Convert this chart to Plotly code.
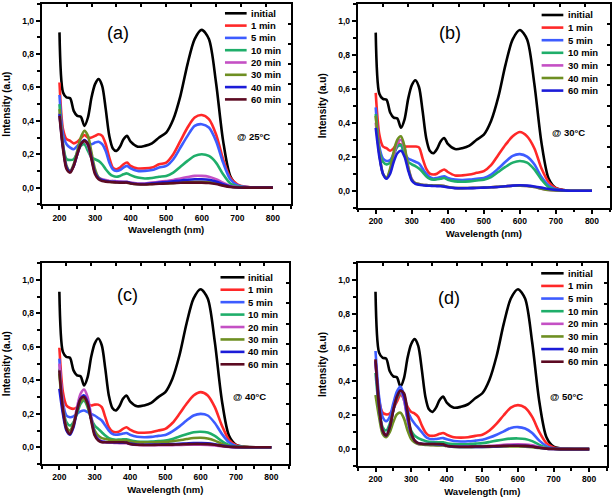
import plotly.graph_objects as go

# ---------------- data ----------------
wavelength = [200, 210, 220, 230, 240, 250, 260, 270, 280, 290, 300, 310, 320, 330, 340,
              350, 360, 370, 380, 390, 400, 420, 440, 460, 480, 500, 520, 540, 560, 580,
              600, 620, 640, 660, 680, 700, 720, 740, 760, 780, 800]

initial = [0.93, 0.57, 0.54, 0.535, 0.46, 0.43, 0.425, 0.37, 0.42, 0.54, 0.62, 0.65, 0.61, 0.47, 0.31,
           0.235, 0.22, 0.245, 0.29, 0.31, 0.275, 0.245, 0.25, 0.265, 0.30, 0.33, 0.41, 0.55, 0.74, 0.89,
           0.945, 0.89, 0.63, 0.28, 0.07, 0.015, 0.004, 0.001, 0.0, 0.0, 0.0]

panel_a = {
    "1 min":  [0.63, 0.35, 0.29, 0.28, 0.265, 0.275, 0.295, 0.315, 0.30, 0.30, 0.31, 0.32, 0.31, 0.26, 0.18,
               0.12, 0.11, 0.12, 0.14, 0.15, 0.13, 0.115, 0.115, 0.12, 0.14, 0.15, 0.20, 0.28, 0.36, 0.42,
               0.435, 0.41, 0.32, 0.17, 0.06, 0.02, 0.006, 0.002, 0.0, 0.0, 0.0],
    "5 min":  [0.555, 0.32, 0.26, 0.24, 0.23, 0.25, 0.27, 0.28, 0.27, 0.26, 0.27, 0.275, 0.26, 0.22, 0.15,
               0.11, 0.10, 0.105, 0.12, 0.13, 0.115, 0.10, 0.10, 0.105, 0.12, 0.13, 0.17, 0.24, 0.31, 0.37,
               0.38, 0.36, 0.28, 0.15, 0.05, 0.015, 0.005, 0.001, 0.0, 0.0, 0.0],
    "10 min": [0.50, 0.25, 0.17, 0.165, 0.17, 0.21, 0.25, 0.26, 0.22, 0.18, 0.17, 0.16, 0.14, 0.11, 0.085,
               0.07, 0.065, 0.07, 0.08, 0.085, 0.075, 0.06, 0.055, 0.058, 0.065, 0.07, 0.09, 0.125, 0.16, 0.19,
               0.20, 0.19, 0.15, 0.08, 0.025, 0.008, 0.002, 0.0, 0.0, 0.0, 0.0],
    "20 min": [0.45, 0.25, 0.12, 0.10, 0.13, 0.20, 0.26, 0.28, 0.25, 0.17, 0.09, 0.06, 0.05, 0.045, 0.04,
               0.04, 0.038, 0.036, 0.035, 0.035, 0.03, 0.025, 0.025, 0.03, 0.035, 0.04, 0.045, 0.055, 0.063, 0.07,
               0.07, 0.065, 0.05, 0.03, 0.01, 0.003, 0.001, 0.0, 0.0, 0.0, 0.0],
    "30 min": [0.47, 0.26, 0.13, 0.10, 0.14, 0.22, 0.30, 0.34, 0.31, 0.21, 0.11, 0.06, 0.045, 0.04, 0.035,
               0.033, 0.032, 0.031, 0.03, 0.03, 0.025, 0.02, 0.02, 0.022, 0.024, 0.025, 0.028, 0.031, 0.034, 0.035,
               0.035, 0.033, 0.026, 0.015, 0.005, 0.002, 0.0, 0.0, 0.0, 0.0, 0.0],
    "40 min": [0.44, 0.24, 0.12, 0.095, 0.13, 0.20, 0.26, 0.285, 0.26, 0.18, 0.09, 0.055, 0.045, 0.04, 0.037,
               0.035, 0.034, 0.033, 0.033, 0.033, 0.028, 0.022, 0.022, 0.026, 0.03, 0.034, 0.038, 0.043, 0.047, 0.05,
               0.05, 0.047, 0.037, 0.02, 0.007, 0.002, 0.0, 0.0, 0.0, 0.0, 0.0],
    "60 min": [0.43, 0.23, 0.11, 0.09, 0.13, 0.20, 0.26, 0.28, 0.26, 0.17, 0.08, 0.05, 0.04, 0.036, 0.034,
               0.032, 0.031, 0.03, 0.03, 0.03, 0.025, 0.02, 0.019, 0.021, 0.023, 0.025, 0.027, 0.029, 0.03, 0.03,
               0.03, 0.028, 0.022, 0.012, 0.004, 0.001, 0.0, 0.0, 0.0, 0.0, 0.0],
}

panel_b = {
    "1 min":  [0.575, 0.33, 0.26, 0.25, 0.235, 0.25, 0.28, 0.27, 0.26, 0.26, 0.26, 0.26, 0.255, 0.19, 0.13,
               0.10, 0.095, 0.10, 0.115, 0.125, 0.11, 0.09, 0.09, 0.095, 0.105, 0.115, 0.15, 0.21, 0.27, 0.32,
               0.345, 0.32, 0.25, 0.13, 0.05, 0.015, 0.004, 0.001, 0.0, 0.0, 0.0],
    "5 min":  [0.49, 0.26, 0.19, 0.175, 0.18, 0.22, 0.26, 0.265, 0.22, 0.19, 0.18, 0.17, 0.16, 0.13, 0.10,
               0.08, 0.072, 0.075, 0.08, 0.085, 0.075, 0.065, 0.063, 0.065, 0.07, 0.075, 0.095, 0.13, 0.17, 0.205,
               0.215, 0.20, 0.155, 0.08, 0.03, 0.008, 0.002, 0.0, 0.0, 0.0, 0.0],
    "10 min": [0.45, 0.24, 0.17, 0.155, 0.165, 0.21, 0.26, 0.27, 0.21, 0.17, 0.155, 0.145, 0.13, 0.11, 0.085,
               0.07, 0.065, 0.067, 0.07, 0.075, 0.065, 0.055, 0.053, 0.055, 0.06, 0.065, 0.08, 0.11, 0.14, 0.165,
               0.175, 0.165, 0.125, 0.065, 0.02, 0.006, 0.001, 0.0, 0.0, 0.0, 0.0],
    "30 min": [0.40, 0.22, 0.10, 0.075, 0.12, 0.21, 0.28, 0.30, 0.25, 0.14, 0.07, 0.045, 0.04, 0.035, 0.033,
               0.032, 0.031, 0.03, 0.03, 0.028, 0.022, 0.016, 0.015, 0.016, 0.017, 0.018, 0.02, 0.023, 0.026, 0.029,
               0.03, 0.028, 0.022, 0.012, 0.004, 0.001, 0.0, 0.0, 0.0, 0.0, 0.0],
    "40 min": [0.44, 0.22, 0.10, 0.075, 0.13, 0.23, 0.30, 0.32, 0.26, 0.14, 0.065, 0.045, 0.04, 0.035, 0.033,
               0.032, 0.031, 0.03, 0.03, 0.028, 0.022, 0.016, 0.015, 0.016, 0.017, 0.018, 0.02, 0.023, 0.026, 0.029,
               0.03, 0.028, 0.022, 0.012, 0.004, 0.001, 0.0, 0.0, 0.0, 0.0, 0.0],
    "60 min": [0.37, 0.20, 0.10, 0.07, 0.10, 0.17, 0.22, 0.235, 0.20, 0.12, 0.06, 0.04, 0.035, 0.032, 0.03,
               0.029, 0.028, 0.027, 0.026, 0.024, 0.02, 0.015, 0.014, 0.015, 0.016, 0.018, 0.02, 0.022, 0.026, 0.03,
               0.032, 0.03, 0.025, 0.018, 0.01, 0.005, 0.002, 0.0, 0.0, 0.0, 0.0],
}

panel_c = {
    "1 min":  [0.595, 0.33, 0.25, 0.235, 0.23, 0.24, 0.27, 0.28, 0.26, 0.25, 0.255, 0.255, 0.24, 0.18, 0.12,
               0.095, 0.09, 0.095, 0.11, 0.12, 0.105, 0.088, 0.087, 0.09, 0.10, 0.11, 0.145, 0.20, 0.26, 0.31,
               0.33, 0.31, 0.24, 0.13, 0.045, 0.012, 0.003, 0.0, 0.0, 0.0, 0.0],
    "5 min":  [0.53, 0.27, 0.19, 0.18, 0.185, 0.20, 0.215, 0.22, 0.21, 0.20, 0.19, 0.175, 0.16, 0.13, 0.10,
               0.08, 0.075, 0.077, 0.082, 0.085, 0.075, 0.063, 0.06, 0.062, 0.068, 0.073, 0.095, 0.125, 0.16, 0.19,
               0.20, 0.19, 0.145, 0.08, 0.03, 0.008, 0.002, 0.0, 0.0, 0.0, 0.0],
    "10 min": [0.47, 0.24, 0.15, 0.13, 0.15, 0.20, 0.26, 0.28, 0.24, 0.17, 0.13, 0.11, 0.09, 0.07, 0.055,
               0.048, 0.045, 0.046, 0.047, 0.048, 0.042, 0.035, 0.033, 0.034, 0.037, 0.04, 0.05, 0.065, 0.078, 0.09,
               0.093, 0.088, 0.068, 0.037, 0.013, 0.004, 0.001, 0.0, 0.0, 0.0, 0.0],
    "20 min": [0.50, 0.25, 0.12, 0.09, 0.14, 0.24, 0.32, 0.345, 0.30, 0.19, 0.09, 0.05, 0.035, 0.03, 0.028,
               0.027, 0.026, 0.025, 0.025, 0.024, 0.02, 0.014, 0.012, 0.012, 0.012, 0.012, 0.013, 0.014, 0.015, 0.015,
               0.015, 0.014, 0.011, 0.006, 0.002, 0.0, 0.0, 0.0, 0.0, 0.0, 0.0],
    "30 min": [0.44, 0.22, 0.12, 0.10, 0.14, 0.22, 0.27, 0.29, 0.25, 0.17, 0.10, 0.07, 0.055, 0.05, 0.045,
               0.042, 0.04, 0.04, 0.04, 0.04, 0.035, 0.03, 0.029, 0.03, 0.031, 0.032, 0.036, 0.042, 0.049, 0.055,
               0.057, 0.053, 0.04, 0.02, 0.007, 0.003, 0.001, 0.0, 0.0, 0.0, 0.0],
    "40 min": [0.35, 0.20, 0.10, 0.075, 0.12, 0.22, 0.29, 0.31, 0.27, 0.17, 0.08, 0.045, 0.035, 0.032, 0.03,
               0.03, 0.029, 0.028, 0.028, 0.027, 0.022, 0.016, 0.015, 0.016, 0.017, 0.018, 0.019, 0.021, 0.023, 0.025,
               0.025, 0.024, 0.018, 0.01, 0.004, 0.001, 0.0, 0.0, 0.0, 0.0, 0.0],
    "60 min": [0.46, 0.23, 0.11, 0.08, 0.13, 0.22, 0.29, 0.30, 0.26, 0.16, 0.07, 0.04, 0.03, 0.03, 0.03,
               0.03, 0.03, 0.03, 0.03, 0.028, 0.02, 0.015, 0.014, 0.014, 0.015, 0.015, 0.016, 0.017, 0.019, 0.02,
               0.02, 0.019, 0.015, 0.008, 0.003, 0.001, 0.0, 0.0, 0.0, 0.0, 0.0],
}

panel_d = {
    "1 min":  [0.53, 0.29, 0.215, 0.205, 0.21, 0.24, 0.28, 0.32, 0.30, 0.25, 0.22, 0.21, 0.19, 0.14, 0.10,
               0.08, 0.078, 0.082, 0.09, 0.095, 0.085, 0.07, 0.068, 0.07, 0.078, 0.085, 0.11, 0.15, 0.20, 0.245,
               0.26, 0.245, 0.19, 0.10, 0.035, 0.01, 0.003, 0.0, 0.0, 0.0, 0.0],
    "5 min":  [0.58, 0.31, 0.19, 0.165, 0.19, 0.27, 0.34, 0.37, 0.32, 0.23, 0.18, 0.15, 0.125, 0.10, 0.075,
               0.062, 0.058, 0.06, 0.063, 0.065, 0.058, 0.048, 0.045, 0.046, 0.05, 0.055, 0.068, 0.085, 0.105, 0.125,
               0.13, 0.122, 0.095, 0.05, 0.018, 0.005, 0.001, 0.0, 0.0, 0.0, 0.0],
    "10 min": [0.45, 0.24, 0.13, 0.11, 0.15, 0.23, 0.30, 0.33, 0.29, 0.18, 0.11, 0.08, 0.065, 0.055, 0.048,
               0.043, 0.04, 0.04, 0.04, 0.04, 0.035, 0.03, 0.028, 0.029, 0.032, 0.035, 0.042, 0.05, 0.057, 0.062,
               0.063, 0.06, 0.047, 0.025, 0.008, 0.002, 0.0, 0.0, 0.0, 0.0, 0.0],
    "20 min": [0.52, 0.25, 0.11, 0.08, 0.13, 0.23, 0.31, 0.34, 0.29, 0.17, 0.08, 0.045, 0.03, 0.027, 0.026,
               0.025, 0.025, 0.024, 0.023, 0.022, 0.018, 0.015, 0.014, 0.015, 0.016, 0.017, 0.019, 0.022, 0.025, 0.027,
               0.028, 0.027, 0.022, 0.012, 0.005, 0.001, 0.0, 0.0, 0.0, 0.0, 0.0],
    "30 min": [0.32, 0.19, 0.09, 0.07, 0.10, 0.16, 0.205, 0.215, 0.18, 0.11, 0.06, 0.04, 0.03, 0.027, 0.025,
               0.024, 0.023, 0.022, 0.022, 0.021, 0.018, 0.012, 0.011, 0.011, 0.012, 0.012, 0.013, 0.014, 0.015, 0.015,
               0.015, 0.014, 0.011, 0.006, 0.003, 0.002, 0.0, 0.0, 0.0, 0.0, 0.0],
    "40 min": [0.52, 0.25, 0.11, 0.08, 0.13, 0.23, 0.31, 0.35, 0.31, 0.19, 0.09, 0.05, 0.035, 0.032, 0.03,
               0.03, 0.03, 0.029, 0.028, 0.026, 0.02, 0.014, 0.013, 0.013, 0.013, 0.013, 0.014, 0.016, 0.018, 0.02,
               0.02, 0.019, 0.015, 0.008, 0.003, 0.001, 0.0, 0.0, 0.0, 0.0, 0.0],
    "60 min": [0.53, 0.26, 0.11, 0.08, 0.13, 0.23, 0.31, 0.345, 0.33, 0.22, 0.10, 0.05, 0.035, 0.032, 0.03,
               0.03, 0.03, 0.03, 0.03, 0.028, 0.02, 0.015, 0.014, 0.014, 0.015, 0.015, 0.016, 0.017, 0.019, 0.02,
               0.02, 0.019, 0.015, 0.008, 0.003, 0.001, 0.0, 0.0, 0.0, 0.0, 0.0],
}

panel_labels = ["(a)", "(b)", "(c)", "(d)"]
temperatures = ["@ 25°C", "@ 30°C", "@ 40°C", "@ 50°C"]
x_title = "Wavelength (nm)"
y_title = "Intensity (a.u)"

# ---------------- style ----------------
W, H = 614, 501
colors = ["#000000", "#ff2828", "#3d5cff", "#1fae6a", "#c450c4", "#6e8f22", "#1c1cd8", "#5c0a22"]
FONT = "Liberation Sans, Arial, sans-serif"

# pixel boxes of each frame: left, right, top, bottom
boxes = [(41.7, 290.7, 4.0, 204.3),
         (357.7, 610.0, 3.7, 207.7),
         (41.7, 289.0, 263.3, 464.0),
         (357.7, 607.0, 263.0, 466.0)]
# legend: line x0, x1 (domain), text x, first row y (px), row step (px)
legend_cfg = [(0.736, 0.823, 0.831, 13.3, 12.3),
              (0.729, 0.815, 0.825, 15.0, 12.6),
              (0.723, 0.820, 0.828, 277.3, 12.43),
              (0.736, 0.826, 0.835, 273.3, 12.63)]
label_pos = [(0.306, 0.855), (0.366, 0.856), (0.348, 0.842), (0.366, 0.826)]
temp_pos = [(0.849, 0.337), (0.835, 0.368), (0.840, 0.335), (0.839, 0.341)]

panels = [panel_a, panel_b, panel_c, panel_d]

fig = go.Figure()
layout = dict(width=W, height=H, margin=dict(l=0, r=0, t=0, b=0), autosize=False,
              paper_bgcolor="white", plot_bgcolor="white", showlegend=False,
              separators=",.", font=dict(family=FONT, color="black"))
shapes, annotations = [], []

for i, (panel, box) in enumerate(zip(panels, boxes)):
    n = i + 1
    xa = "x" if n == 1 else f"x{n}"
    ya = "y" if n == 1 else f"y{n}"
    xo, yo = f"x{n+4}", f"y{n+4}"
    l, r, t, b = box
    xdom = [l / W, r / W]
    ydom = [1 - b / H, 1 - t / H]

    names = ["initial"] + list(panel.keys())
    series = [initial] + list(panel.values())
    for k, (name, ys) in enumerate(zip(names, series)):
        fig.add_trace(go.Scatter(x=wavelength, y=ys, name=name, mode="lines",
                                 line=dict(color=colors[k], width=2.6, shape="spline", smoothing=0.8),
                                 xaxis=xa, yaxis=ya, showlegend=False, hoverinfo="skip"))
    # dummy traces for the inner-tick overlay axes
    fig.add_trace(go.Scatter(x=[None], y=[None], xaxis=xo, yaxis=ya, showlegend=False, hoverinfo="skip"))
    fig.add_trace(go.Scatter(x=[None], y=[None], xaxis=xa, yaxis=yo, showlegend=False, hoverinfo="skip"))

    key_x = "xaxis" if n == 1 else f"xaxis{n}"
    key_y = "yaxis" if n == 1 else f"yaxis{n}"
    layout[key_x] = dict(domain=xdom, anchor=ya, range=[150, 850], tick0=200, dtick=100,
                         ticks="outside", ticklen=4, tickwidth=1.5, tickcolor="black",
                         minor=dict(dtick=50, tick0=150, ticks="outside", ticklen=2.5, tickwidth=1.5, tickcolor="black"),
                         showline=True, linewidth=2, linecolor="black", mirror=True,
                         showgrid=False, zeroline=False,
                         tickfont=dict(family=FONT, size=8.5, color="black", weight="bold"),
                         title=dict(text=x_title, standoff=5,
                                    font=dict(family=FONT, size=9.5, color="black", weight="bold")))
    layout[key_y] = dict(domain=ydom, anchor=xa, range=[-0.1, 1.1], tick0=0, dtick=0.2, tickformat=".1f",
                         ticks="outside", ticklen=4, tickwidth=1.5, tickcolor="black",
                         minor=dict(dtick=0.1, tick0=0, ticks="outside", ticklen=2.5, tickwidth=1.5, tickcolor="black"),
                         showline=True, linewidth=2, linecolor="black", mirror=True,
                         showgrid=False, zeroline=False,
                         tickfont=dict(family=FONT, size=8.5, color="black", weight="bold"),
                         title=dict(text=y_title, standoff=10,
                                    font=dict(family=FONT, size=10, color="black", weight="bold")))
    layout[f"xaxis{n+4}"] = dict(overlaying=xa, side="top", anchor=ya, range=[0, 10], dtick=1,
                                 ticks="inside", ticklen=3, tickwidth=1.5, tickcolor="black",
                                 showticklabels=False, showline=False, showgrid=False, zeroline=False)
    layout[f"yaxis{n+4}"] = dict(overlaying=ya, side="right", anchor=xa, range=[0, 10], dtick=1,
                                 ticks="inside", ticklen=3, tickwidth=1.5, tickcolor="black",
                                 showticklabels=False, showline=False, showgrid=False, zeroline=False)

    # hand-made legend
    lx0, lx1, tx, y0, step = legend_cfg[i]
    for k, name in enumerate(names):
        ypx = y0 + k * step
        yd = (b - ypx) / (b - t)
        shapes.append(dict(type="line", xref=f"{xa} domain", yref=f"{ya} domain",
                           x0=lx0, x1=lx1, y0=yd, y1=yd, line=dict(color=colors[k], width=2.6)))
        annotations.append(dict(text=name, xref=f"{xa} domain", yref=f"{ya} domain", x=tx, y=yd,
                                xanchor="left", yanchor="middle", showarrow=False,
                                font=dict(family=FONT, size=9.5, color="black", weight="bold")))
    px, py = label_pos[i]
    annotations.append(dict(text=panel_labels[i], xref=f"{xa} domain", yref=f"{ya} domain", x=px, y=py,
                            xanchor="center", yanchor="middle", showarrow=False,
                            font=dict(family=FONT, size=18, color="black")))
    qx, qy = temp_pos[i]
    annotations.append(dict(text=temperatures[i], xref=f"{xa} domain", yref=f"{ya} domain", x=qx, y=qy,
                            xanchor="center", yanchor="middle", showarrow=False,
                            font=dict(family=FONT, size=9.5, color="black", weight="bold")))

layout["shapes"] = shapes
layout["annotations"] = annotations
fig.update_layout(**layout)
fig.write_html("out.html")
